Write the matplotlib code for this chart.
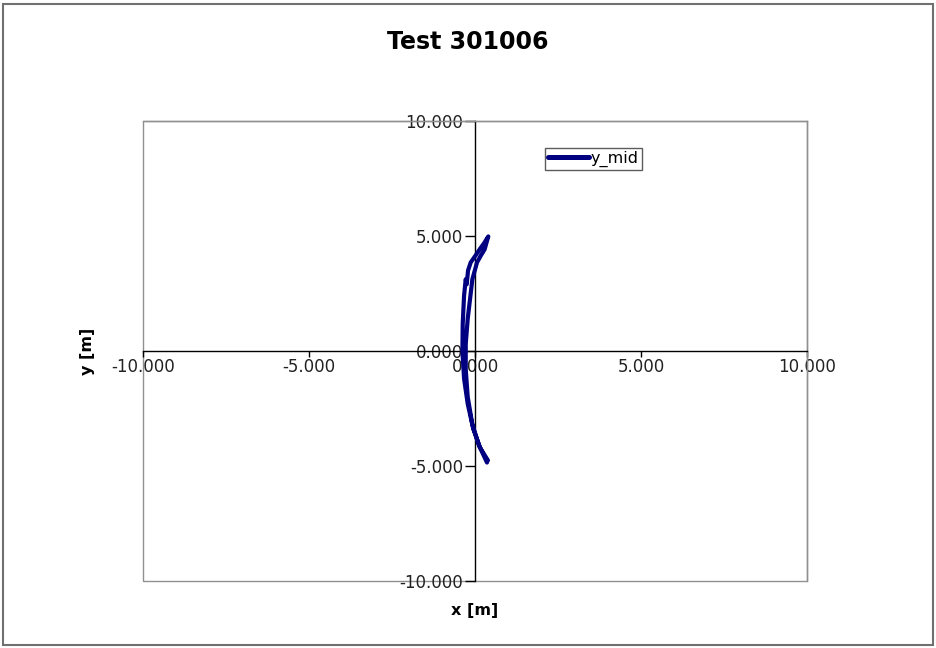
import matplotlib
matplotlib.use("Agg")
import matplotlib.pyplot as plt
from matplotlib.patches import Rectangle

plt.rcParams['font.family'] = ['DejaVu Sans']

title = "Test 301006"
series_name = "y_mid"
x_label = "x [m]"
y_label = "y [m]"

# trajectory of the mid point (x, y in metres)
x_mid = [0.39, 0.15, -0.05, -0.22, -0.33, -0.38, -0.37, -0.33, -0.28, -0.25,
         -0.21, -0.13, 0.02, 0.14, 0.27, 0.40, 0.34, 0.29, 0.18, 0.06,
         -0.08, -0.14, -0.22, -0.28, -0.28, -0.22, -0.08, 0.12, 0.36]
y_mid = [-4.76, -4.20, -3.40, -2.30, -1.20, 0.00, 1.20, 2.40, 3.12, 2.90,
         3.50, 3.85, 4.16, 4.42, 4.68, 4.98, 4.68, 4.42, 4.16, 3.85,
         3.12, 2.38, 1.40, 0.30, -0.80, -2.00, -3.20, -4.10, -4.85]

x_ticks = [-10, -5, 0, 5, 10]
y_ticks = [-10, -5, 0, 5, 10]

fig = plt.figure(figsize=(9.36, 6.48), dpi=100)
fig.patches.append(Rectangle((0.003, 0.004), 0.994, 0.99, transform=fig.transFigure,
                             fill=False, edgecolor='#707070', linewidth=1.5))

ax = fig.add_axes([0.1528, 0.1034, 0.7094, 0.7099])
ax.plot(x_mid, y_mid, color='#000080', linewidth=3.0, solid_joinstyle='round',
        solid_capstyle='round', label=series_name, zorder=3)

ax.set_xlim(-10, 10)
ax.set_ylim(-10, 10)
ax.set_xticks(x_ticks)
ax.set_yticks(y_ticks)
ax.set_xticklabels([f"{v:.3f}" for v in x_ticks])
ax.set_yticklabels([f"{v:.3f}" for v in y_ticks])

# axes cross at the origin; plot area framed in grey
ax.spines['left'].set_position(('data', 0))
ax.spines['bottom'].set_position(('data', 0))
for s in ('left', 'bottom'):
    ax.spines[s].set_color('black')
    ax.spines[s].set_linewidth(1.0)
for s in ('top', 'right'):
    ax.spines[s].set_color('#909090')
    ax.spines[s].set_linewidth(1.0)
ax.add_patch(Rectangle((0, 0), 1, 1, transform=ax.transAxes, fill=False,
                       edgecolor='#909090', linewidth=1.0, zorder=0, clip_on=False))

ax.tick_params(axis='both', direction='out', width=1.0, color='black',
               labelsize=12, labelcolor='#222222')
ax.tick_params(axis='x', length=4, pad=1)
ax.tick_params(axis='y', length=7, pad=1.5)

fig.text(0.5075, 0.058, x_label, ha='center', va='center', fontsize=11.5, fontweight='bold')
fig.text(0.094, 0.457, y_label, ha='center', va='center', fontsize=11.5, fontweight='bold',
         rotation=90)
fig.text(0.5, 0.935, title, ha='center', va='center', fontsize=17, fontweight='bold')

leg = ax.legend(loc='upper left', bbox_to_anchor=(0.605, 0.9415), frameon=True, fancybox=False,
                fontsize=11.5, handlelength=2.6, handletextpad=0.1, borderpad=0.18,
                borderaxespad=0)
leg.get_frame().set_edgecolor('#333333')
leg.get_frame().set_linewidth(1.0)
leg.get_lines()[0].set_linewidth(3.6)

fig.savefig("out.png", dpi=100)
